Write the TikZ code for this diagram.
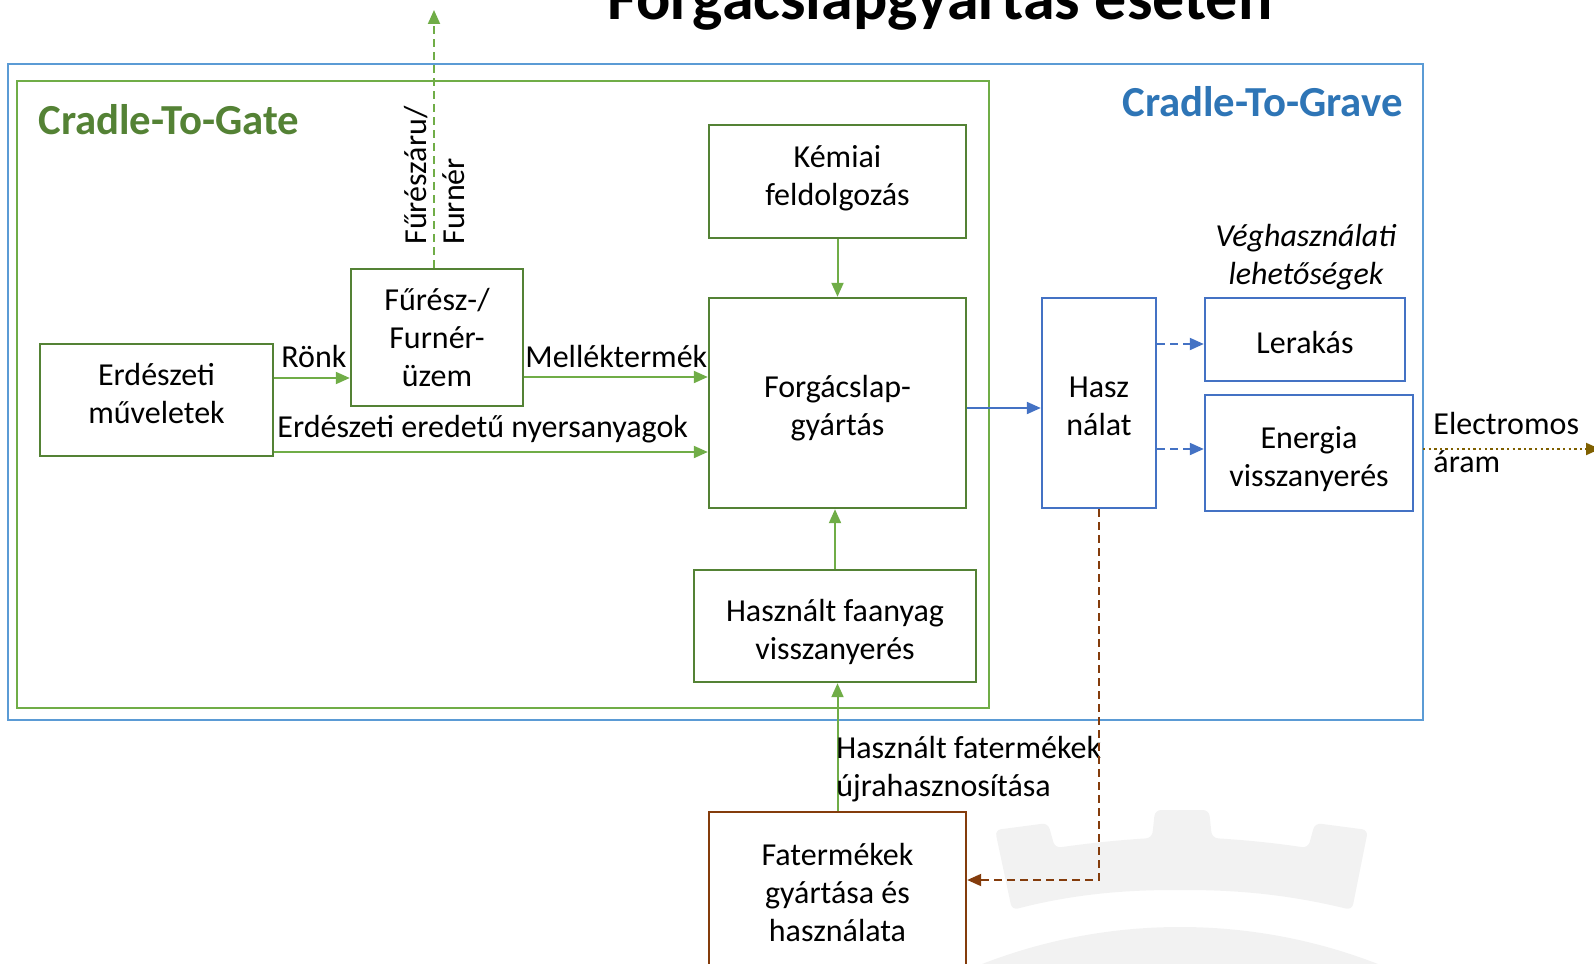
\documentclass[tikz,border=0pt]{standalone}
\usepackage{fontspec}
\setmainfont{Carlito}
\usetikzlibrary{arrows.meta}

\definecolor{gline}{HTML}{548235}
\definecolor{garrow}{HTML}{70AD47}
\definecolor{bline}{HTML}{4472C4}
\definecolor{bframe}{HTML}{5B9BD5}
\definecolor{btext}{HTML}{2E75B6}
\definecolor{brn}{HTML}{843C0C}
\definecolor{gold}{HTML}{7F6000}
\definecolor{wmark}{HTML}{F2F2F2}

\newcommand\pxu{0.5pt}
\newcommand\bodyfont{\fontsize{16}{19}\selectfont}

\tikzset{
  procbox/.style={draw, line width=1.2pt, inner sep=0pt},
  greenbox/.style={procbox, draw=gline},
  bluebox/.style={procbox, draw=bline},
  brownbox/.style={procbox, draw=brn},
  boxtext/.style={align=center, inner sep=0pt, font=\bodyfont},
  lbl/.style={inner sep=0pt, font=\bodyfont},
  tip/.style={-{Triangle[length=7pt,width=6pt]}, line width=1pt},
  garr/.style={tip, garrow},
  gdash/.style={garr, dash pattern=on 4pt off 2.5pt},
  barr/.style={tip, bline},
  bdash/.style={barr, dash pattern=on 4pt off 2.5pt},
  brdash/.style={tip, brn, dash pattern=on 4pt off 2.5pt},
  eldots/.style={tip, gold, dash pattern=on 1.2pt off 1.6pt},
  headline/.style={inner sep=0pt, font=\fontsize{21.4}{25}\selectfont\bfseries},
}

\begin{document}
\begin{tikzpicture}[x=0.5pt, y=-0.5pt]
\useasboundingbox (0,0) rectangle (1594,963);

% faint crest in the background
\fill[wmark, rounded corners=3] (995,830) -- (1048,823) -- (1055,848)
  .. controls (1090,843) and (1120,840) .. (1152,838) -- (1155,810) -- (1209,810) -- (1212,838)
  .. controls (1245,840) and (1275,843) .. (1308,848) -- (1315,823) -- (1368,830) -- (1352,910)
  .. controls (1290,895) and (1240,890) .. (1180,890)
  .. controls (1120,890) and (1070,895) .. (1012,910) -- cycle;
\fill[wmark] (1180,1473) circle (546);

% title
\node[anchor=base, inner sep=0pt, font=\fontsize{32}{36}\selectfont\bfseries] (title) at (940,20) {Forgácslapgyártás esetén};

% system boundaries
\draw[bframe, line width=1pt] (8,64) rectangle (1423,720);
\draw[garrow, line width=1pt] (17,81) rectangle (989,708);
\node[headline, anchor=base west, text=gline] (gate) at (38,134) {Cradle-To-Gate};
\node[headline, anchor=base east, text=btext] (grave) at (1403,117) {Cradle-To-Grave};

% process boxes
\node[greenbox, minimum width=233*\pxu, minimum height=112*\pxu] (erd) at (156.5,400) {};
\node[boxtext] (erdT) at ([yshift=3.3pt]erd.center) {Erdészeti\\műveletek};
\node[greenbox, minimum width=172*\pxu, minimum height=137*\pxu] (fur) at (437,337.5) {};
\node[boxtext] (furT) at (fur.center) {Fűrész-/\\Furnér-\\üzem};
\node[greenbox, minimum width=257*\pxu, minimum height=113*\pxu] (kem) at (837.5,181.5) {};
\node[boxtext] (kemT) at ([yshift=1.5pt]kem.center) {Kémiai\\feldolgozás};
\node[greenbox, minimum width=257*\pxu, minimum height=210*\pxu] (forg) at (837.5,403) {};
\node[boxtext] (forgT) at ([yshift=-2.8pt]forg.center) {Forgácslap-\\gyártás};
\node[greenbox, minimum width=282*\pxu, minimum height=112*\pxu] (hfa) at (835,626) {};
\node[boxtext] (hfaT) at ([yshift=-2.8pt]hfa.center) {Használt faanyag\\visszanyerés};
\node[brownbox, minimum width=257*\pxu, minimum height=160*\pxu] (fat) at (837.5,892) {};
\node[boxtext] (fatT) at (fat.center) {Fatermékek\\gyártása és\\használata};
\node[bluebox, minimum width=114*\pxu, minimum height=210*\pxu] (hasz) at (1099,403) {};
\node[boxtext] (haszT) at ([yshift=-1.8pt]hasz.center) {Hasz\\nálat};
\node[bluebox, minimum width=200*\pxu, minimum height=83*\pxu] (ler) at (1305,339.5) {};
\node[boxtext] (lerT) at ([yshift=-1.5pt]ler.center) {Lerakás};
\node[bluebox, minimum width=208*\pxu, minimum height=116*\pxu] (ene) at (1309,453) {};
\node[boxtext] (eneT) at ([yshift=-2.8pt]ene.center) {Energia\\visszanyerés};

\node[boxtext, font=\bodyfont\itshape] (veg) at (1306,257) {Véghasználati\\lehetőségek};

% green flows
\draw[garr] ([yshift=11pt]erd.east) -- ([yshift=11pt]erd.east -| fur.west);
\node[lbl, anchor=base west] (ronk) at (281,367) {Rönk};
\draw[garr] ([yshift=-19.75pt]fur.east) -- ([yshift=-19.75pt]fur.east -| forg.west);
\node[lbl, anchor=base west] (mell) at (525,367) {Melléktermék};
\draw[garr] ([yshift=-26pt]erd.east) -- ([yshift=-26pt]erd.east -| forg.west);
\node[lbl, anchor=base west] (nyers) at (277,437) {Erdészeti eredetű nyersanyagok};
\draw[garr] (kem.south) -- (forg.north);
\draw[garr] (hfa.north) -- (hfa.north |- forg.south);
\draw[garr] (fat.north) -- (fat.north |- hfa.south);
\node[lbl, anchor=west, align=left] (ujra) at (836,769) {Használt fatermékek\\újrahasznosítása};

% sawn timber leaving the system
\coordinate (fnTop) at (434,10);
\draw[gdash] (fnTop |- fur.north) -- (fnTop);
\node[lbl, rotate=90, anchor=west, align=left] (fn) at (435,245) {Fűrészáru/\\Furnér};

% blue flows
\draw[barr] ([yshift=-2.5pt]forg.east) -- ([yshift=-2.5pt]forg.east -| hasz.west);
\draw[bdash] ([yshift=29.5pt]hasz.east) -- ([yshift=29.5pt]hasz.east -| ler.west);
\draw[bdash] ([yshift=-23pt]hasz.east) -- ([yshift=-23pt]hasz.east -| ene.west);

% electricity output
\coordinate (elStart) at (1423,449);
\coordinate (elEnd) at (1600,449);
\draw[eldots] (elStart) -- (elEnd);
\node[lbl, anchor=west, align=left] (elec) at (1433,443) {Electromos\\áram};

% end of life back to wood products
\draw[brdash] (hasz.south) |- ([yshift=6pt]fat.east);
\end{tikzpicture}
\end{document}
